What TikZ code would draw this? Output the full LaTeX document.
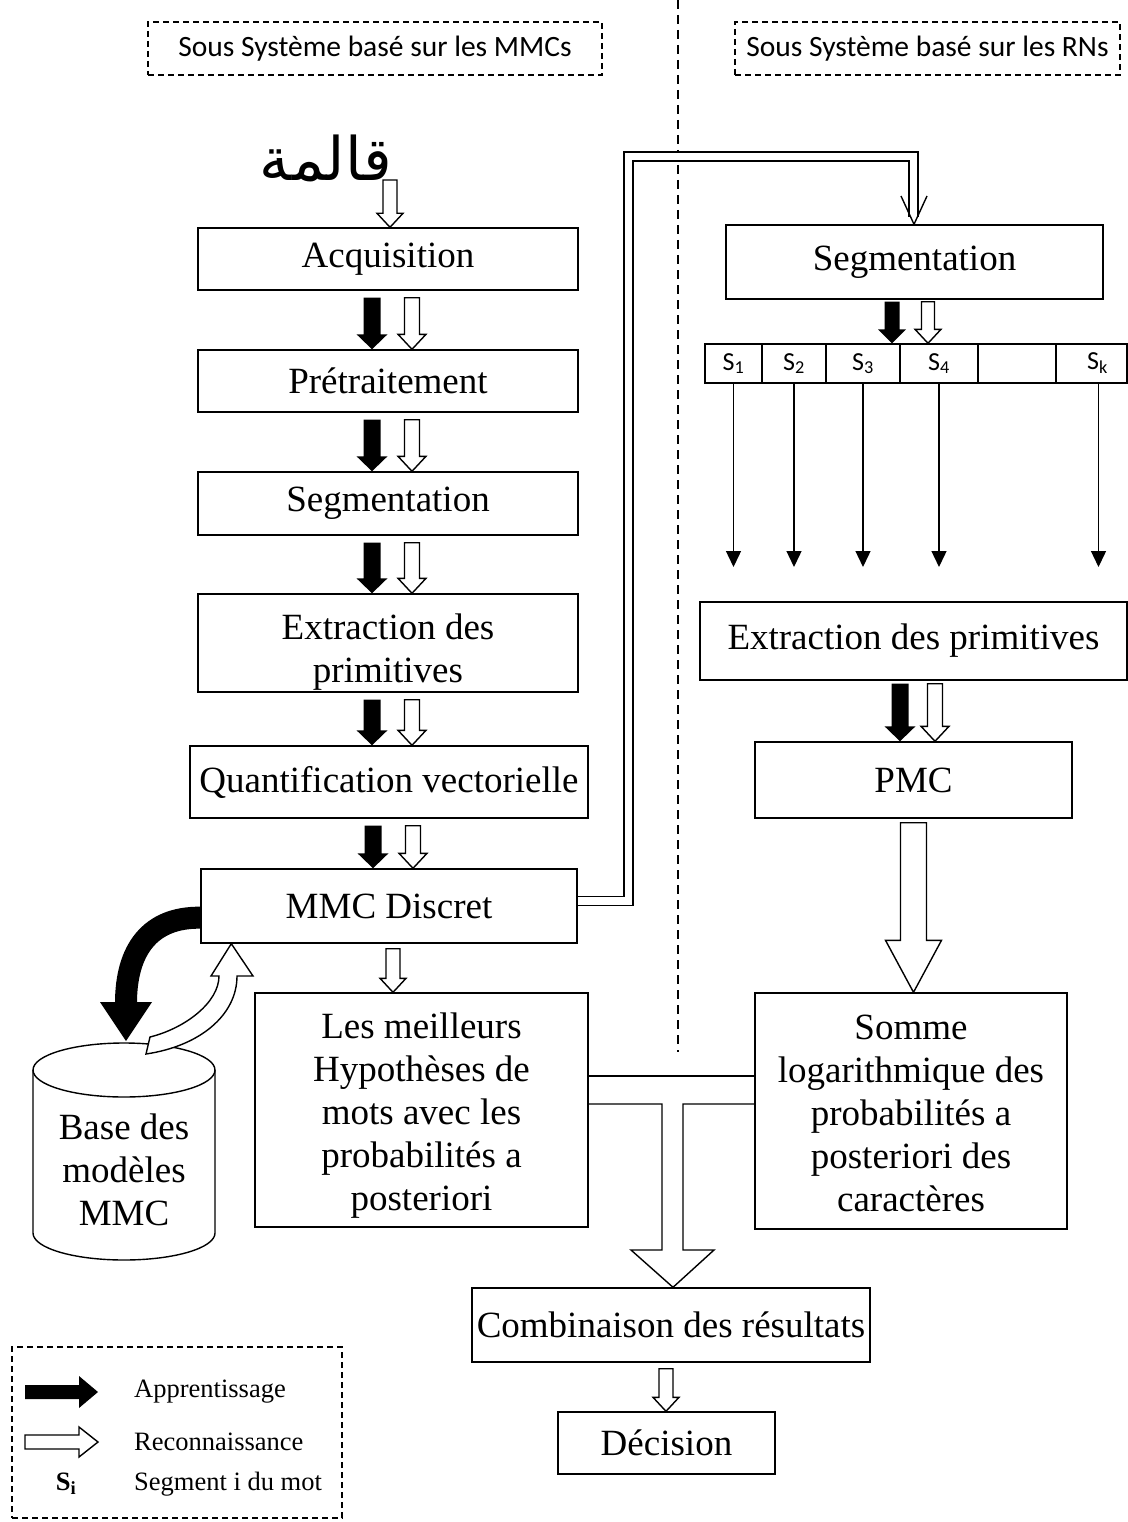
\documentclass[tikz,border=0pt]{standalone}
\usepackage{fontspec}
\setmainfont{Liberation Serif}
\newfontfamily\calib{Carlito}
\newfontfamily\arabicfont[Script=Arabic]{DejaVu Sans}
\TeXXeTstate=1
\usetikzlibrary{calc,arrows.meta}

% block arrow pointing down: style, start point, target node, shaft half width,
% head half width, head length
\newcommand\blockdown[6]{%
  \path[#1] let \p1=#2, \p2=(#3.north) in
    (\x1-#4pt,\y1) -- (\x1+#4pt,\y1) -- (\x1+#4pt,\y2+#6pt) -- (\x1+#5pt,\y2+#6pt)
    -- (\x1,\y2) -- (\x1-#5pt,\y2+#6pt) -- (\x1-#4pt,\y2+#6pt) -- cycle;}
% centred lines of text, drawn lower by #1 while keeping their box
\newcommand\lowered[2]{\raisebox{#1}[\height][\depth]{\begin{tabular}{@{}c@{}}#2\end{tabular}}}

\begin{document}
\begin{tikzpicture}[x=1pt,y=-1pt,
  box/.style={draw, line width=1.4pt, align=center, inner sep=0pt,
    font=\fontsize{37}{43}\selectfont},
  hdr/.style={draw, dash pattern=on 6pt off 4pt, line width=1.2pt, inner sep=0pt,
    font=\calib\fontsize{29.5}{32}\selectfont},
  cell/.style={draw, line width=1.4pt, inner sep=0pt, minimum height=39pt,
    font=\calib\fontsize{26}{28}\selectfont},
  blk/.style={fill=black},
  wht/.style={draw, fill=white, line width=1.4pt, line join=miter},
  segarr/.style={line width=1.4pt, -{Triangle[length=16pt,width=15pt]}},
  legtxt/.style={anchor=west, inner sep=0pt, font=\fontsize{26.5}{30}\selectfont},
]
\useasboundingbox[fill=white] (0,0) rectangle (1127,1522);

% ---- subsystem headers and separator
\node[hdr, minimum width=454pt, minimum height=53pt] (hL) at (375,48.5) {Sous Système basé sur les MMCs};
\node[hdr, minimum width=385pt, minimum height=53pt] (hR) at (927.5,48.5) {Sous Système basé sur les RNs};
\coordinate (divtop) at (678,0);
\coordinate (divbot) at (678,1052);
\draw[line width=1.2pt, dash pattern=on 9pt off 6pt] (divtop) -- (divbot);

% ---- input word
\node[font=\arabicfont\fontsize{60}{64}\selectfont, inner sep=0pt] (word) at (326,158) {\beginR قالمة\endR};
\coordinate (wordfoot) at (390,180);

% ---- HMM subsystem
\node[box, minimum width=380pt, minimum height=62pt] (acq) at (388,259) {Acquisition};
\node[box, minimum width=380pt, minimum height=62pt] (pre) at (388,381) {Prétraitement};
\node[box, minimum width=380pt, minimum height=63pt] (segL) at (388,503.5) {Segmentation};
\node[box, minimum width=380pt, minimum height=98pt] (extL) at (388,643) {\lowered{-9pt}{Extraction des\\primitives}};
\node[box, minimum width=398pt, minimum height=72pt] (quant) at (389,782) {Quantification vectorielle};
\node[box, minimum width=376pt, minimum height=74pt] (mmc) at (389,906) {MMC Discret};
\node[box, minimum width=333pt, minimum height=234pt] (meil) at (421.5,1110)
  {\lowered{-6pt}{Les meilleurs\\Hypothèses de\\mots avec les\\probabilités a\\posteriori}};

\blockdown{wht}{(wordfoot)}{acq}{7}{13}{14}
\foreach \a/\b in {acq/pre, pre/segL, segL/extL, extL/quant, quant/mmc}{
  \blockdown{blk}{($(\a.south)+(-16,7)$)}{\b}{8.5}{15.5}{15}
  \blockdown{wht}{($(\a.south)+(24,7)$)}{\b}{7.5}{14}{15}
}
\blockdown{wht}{($(mmc.south)+(4,5)$)}{meil}{7}{13}{14}

% ---- model database
\draw[line width=1.4pt, fill=white] (33,1070) -- (33,1233)
  .. controls (33,1248) and (73.7,1260) .. (124,1260)
  .. controls (174.3,1260) and (215,1248) .. (215,1233) -- (215,1070);
\draw[line width=1.4pt] (124,1070) ellipse [x radius=91, y radius=27];
\node[align=center, inner sep=0pt, font=\fontsize{37}{43}\selectfont] (base) at (124,1170) {Base des\\modèles\\MMC};

% learning arrow into the database, recognition arrow out of it
\draw[line width=22pt] ($(mmc.south west)+(0,-26)$) .. controls (150,917) and (126,950) .. (126,1003);
\fill (100,1002) -- (152,1002) -- (126,1041) -- cycle;
\draw[wht] (146,1054) .. controls (200,1046) and (237,1015) .. (237,976)
  -- (253,976) -- ($(mmc.south west)+(31,0)$) -- (211,976) -- (219,976)
  .. controls (219,1002) and (186,1028) .. (150,1037) -- cycle;

% ---- neural network subsystem
\node[box, minimum width=377pt, minimum height=74pt] (segR) at (914.5,262) {Segmentation};
\node[cell, minimum width=57pt] (s1) at (733.5,363.5) {S\textsubscript{1}};
\node[cell, minimum width=64pt] (s2) at (794,363.5) {S\textsubscript{2}};
\node[cell, minimum width=74pt] (s3) at (863,363.5) {S\textsubscript{3}};
\node[cell, minimum width=78pt] (s4) at (939,363.5) {S\textsubscript{4}};
\node[cell, minimum width=78pt] (s5) at (1017,363.5) {};
\node[cell, minimum width=71pt] (sk) at (1091.5,363.5) {\hspace*{12pt}S\textsubscript{k}};

\blockdown{blk}{($(segR.south)+(-22.5,2)$)}{s4}{7.5}{14}{14}
\blockdown{wht}{($(segR.south)+(13.5,2)$)}{s4}{6.5}{13}{14}

\coordinate (tips) at (0,567);
\foreach \c in {s1,s2,s3,s4}{
  \draw[segarr] (\c.south) -- (\c.south |- tips);
}
\draw[segarr] ($(sk.south)+(7,0)$) -- ($(sk.south |- tips)+(7,0)$);

\node[box, minimum width=427pt, minimum height=78pt] (extR) at (913.5,641) {Extraction des primitives};
\node[box, minimum width=317pt, minimum height=76pt] (pmc) at (913.5,780) {PMC};
\node[box, minimum width=312pt, minimum height=236pt] (somme) at (911,1111)
  {\lowered{-6pt}{Somme\\logarithmique des\\probabilités a\\posteriori des\\caractères}};

\blockdown{blk}{($(extR.south)+(-13.5,3)$)}{pmc}{8.5}{15.5}{15}
\blockdown{wht}{($(extR.south)+(21.5,3)$)}{pmc}{7.5}{14}{15}
\blockdown{wht}{($(pmc.south)+(0,4)$)}{somme}{13}{28}{52}

% link from the HMM output to the word segmentation
\draw[line width=1.4pt, double distance=7.5pt, line join=miter]
  ($(mmc.east)+(0.7,-5)$) -- (628.5,901) -- (628.5,156.5) -- (913.5,156.5) -- (913.5,217);
\draw[line width=1.4pt] (901,196) -- (segR.north -| 914,0) -- (927,196);

% ---- fusion of both subsystems
\node[box, minimum width=398pt, minimum height=74pt] (comb) at (671,1325) {Combinaison des résultats};
\node[box, minimum width=217pt, minimum height=62pt] (dec) at (666.5,1443) {Décision};

\coordinate (tTop) at (0,1076);
\coordinate (tBot) at (0,1104);
\draw[line width=1.4pt, line join=miter] (meil.east |- tTop) -- (somme.west |- tTop);
\draw[line width=1.4pt, line join=miter] (somme.west |- tBot) -- (683,1104) -- (683,1250) -- (714,1250)
  -- (comb.north -| 673,0) -- (631,1250) -- (662,1250) -- (662,1104) -- (meil.east |- tBot);

\blockdown{wht}{($(comb.south)+(-5,6)$)}{dec}{7}{13}{14}

% ---- legend
\node[draw, line width=1.2pt, dash pattern=on 6pt off 4pt, minimum width=330pt, minimum height=171pt] (legend) at (177,1432.5) {};
\fill (25,1385) -- (79,1385) -- (79,1376) -- (98,1392) -- (79,1408) -- (79,1399) -- (25,1399) -- cycle;
\draw[wht] (25,1435) -- (79,1435) -- (79,1427) -- (98,1442) -- (79,1457) -- (79,1449) -- (25,1449) -- cycle;
\node[legtxt] (l1) at (134,1392) {Apprentissage};
\node[legtxt] (l2) at (134,1442) {Reconnaissance};
\node[inner sep=0pt, font=\fontsize{26.5}{30}\selectfont] (si) at (66,1484) {\textbf{S\textsubscript{i}}};
\node[legtxt] (l3) at (134,1484) {Segment i du mot};
\end{tikzpicture}
\end{document}
